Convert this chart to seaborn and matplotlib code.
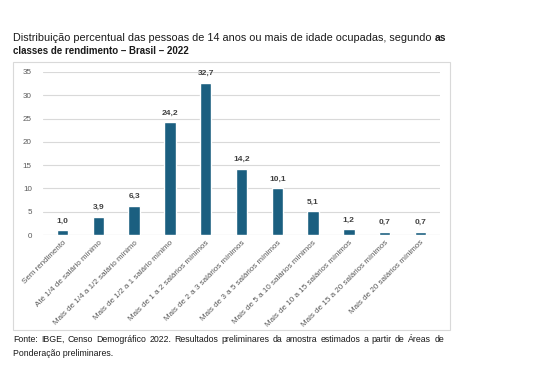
import matplotlib
matplotlib.use("Agg")
import matplotlib.pyplot as plt
import seaborn as sns
import pandas as pd
from matplotlib.patches import Rectangle

categories = [
    "Sem rendimento",
    "Até 1/4 de salário mínimo",
    "Mais de 1/4 a 1/2 salário mínimo",
    "Mais de 1/2 a 1 salário mínimo",
    "Mais de 1 a 2 salários mínimos",
    "Mais de 2 a 3 salários mínimos",
    "Mais de 3 a 5 salários mínimos",
    "Mais de 5 a 10 salários mínimos",
    "Mais de 10 a 15 salários mínimos",
    "Mais de 15 a 20 salários mínimos",
    "Mais de 20 salários mínimos",
]
values = [1.0, 3.9, 6.3, 24.2, 32.7, 14.2, 10.1, 5.1, 1.2, 0.7, 0.7]
yticks = [0, 5, 10, 15, 20, 25, 30, 35]

sns.set_theme(style="white")
plt.rcParams["font.family"] = ["Liberation Sans", "DejaVu Sans"]

df = pd.DataFrame({"cat": categories, "val": values})

fig = plt.figure(figsize=(5.5, 3.72), dpi=100)
fig.patch.set_facecolor("white")
ax = fig.add_axes([43/550, 1-235/372, (440-43)/550, (235-72)/372])

sns.barplot(data=df, x="cat", y="val", color="#1b5f80", saturation=1,
            width=0.32, ax=ax, zorder=3)

ax.set_ylim(0, 35)
ax.set_yticks(yticks)
ax.set_yticklabels([str(t) for t in yticks], fontsize=5.8, color="#595959")
ax.set_xlim(-0.55, len(categories) - 0.45)
ax.set_xticks(range(len(categories)))
ax.set_xticklabels(categories, rotation=45, ha="right", rotation_mode="anchor",
                   fontsize=5.8, color="#595959")
ax.tick_params(axis="both", length=0, pad=3)
ax.tick_params(axis="y", pad=8)
ax.set_xlabel("")
ax.set_ylabel("")
ax.grid(axis="y", color="#d9d9d9", linewidth=0.8, zorder=0)
ax.set_axisbelow(True)
for s in ax.spines.values():
    s.set_visible(False)
ax.axhline(0, color="#d9d9d9", linewidth=0.8, zorder=1)

for i, v in enumerate(values):
    ax.annotate(f"{v:.1f}".replace(".", ","), (i, v), xytext=(0, 4),
                textcoords="offset points", ha="center", va="bottom",
                fontsize=6, fontweight="bold", color="#404040")

# chart border box
fig.patches.append(Rectangle((13/550, 1-330/372), (450-13)/550, (330-62)/372,
                             transform=fig.transFigure, fill=False,
                             edgecolor="#d9d9d9", linewidth=0.8))

# title
t1 = fig.text(13/550, 1-38/372,
              "Distribuição percentual das pessoas de 14 anos ou mais de idade ocupadas, segundo",
              fontsize=7.8, color="#1a1a1a", va="center", ha="left")
fig.canvas.draw()
bb = t1.get_window_extent()
fig.text((bb.x1 + 3)/550, 1-38/372, "as", fontsize=7.4, fontweight="bold",
         color="#1a1a1a", va="center", ha="left")
fig.text(13/550, 1-51/372, "classes de rendimento – Brasil – 2022",
         fontsize=7.0, fontweight="bold", color="#1a1a1a", va="center", ha="left")

# footer (justified first line)
words = "Fonte: IBGE, Censo Demográfico 2022. Resultados preliminares da amostra estimados a partir de Áreas de".split()
renderer = fig.canvas.get_renderer()
x0, x1 = 13, 444
fs = 6.3
ws = []
for w in words:
    tt = fig.text(0, 0, w, fontsize=fs)
    ws.append(tt.get_window_extent(renderer).width)
    tt.remove()
gap = (x1 - x0 - sum(ws)) / (len(words) - 1)
x = x0
for w, wd in zip(words, ws):
    fig.text(x/550, 1-339/372, w, fontsize=fs, color="#1a1a1a", va="center", ha="left")
    x += wd + gap
fig.text(13/550, 1-353/372, "Ponderação preliminares.", fontsize=fs,
         color="#1a1a1a", va="center", ha="left")

fig.savefig("out.png", dpi=100, facecolor="white")
